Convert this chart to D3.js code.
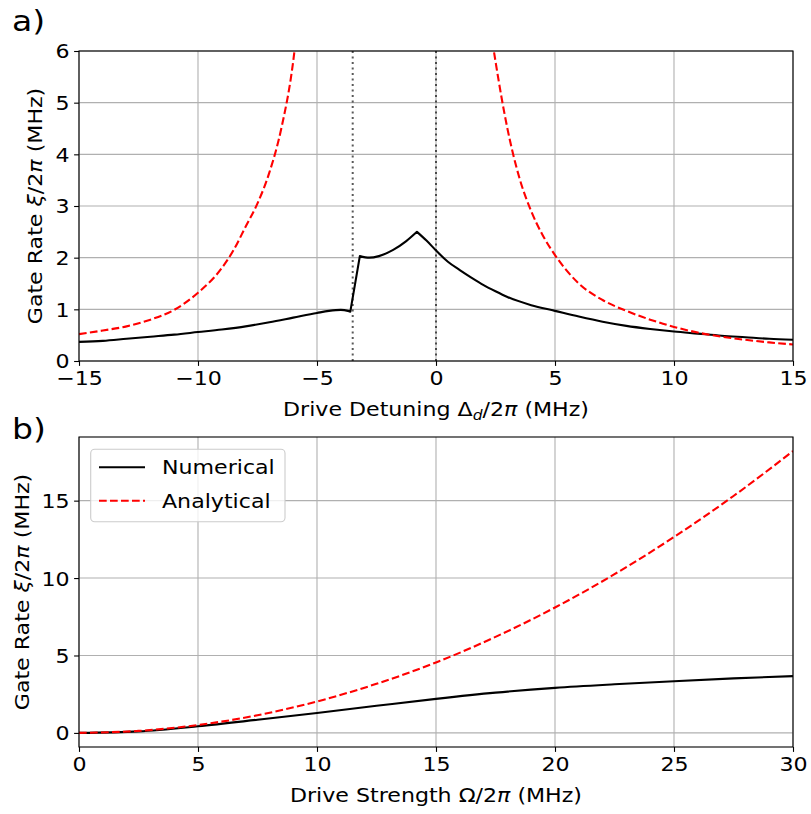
<!DOCTYPE html>
<html>
<head>
<meta charset="utf-8">
<script src="https://cdn.jsdelivr.net/npm/d3@7"></script>
<style>
  body { margin: 0; background: #fff; }
  text { font-family: "DejaVu Sans", sans-serif; fill: #000; }
</style>
</head>
<body>
<div id="chart"></div>
<script>
// panel a: gate rate vs drive detuning
const detNumX = [-15, -14, -13, -12, -11, -10, -9, -8, -7, -6, -5, -4.5, -4, -3.7, -3.6, -3.2, -2.8, -2.4, -1.8, -1.25, -0.8, -0.4, 0, 0.5, 1, 1.5, 2, 2.5, 3, 4, 5, 6, 7, 8, 9, 10, 11, 12, 13, 14, 15];
const detNumY = [0.37, 0.39, 0.43, 0.47, 0.51, 0.56, 0.61, 0.67, 0.75, 0.84, 0.93, 0.97, 0.99, 0.97, 0.955, 2.03, 2.0, 2.03, 2.15, 2.32, 2.5, 2.33, 2.14, 1.92, 1.76, 1.61, 1.47, 1.35, 1.24, 1.08, 0.97, 0.86, 0.76, 0.68, 0.62, 0.57, 0.53, 0.49, 0.46, 0.43, 0.41];
const detNumKinks = [-3.6, -3.2, -0.8]; // where the numerical curve breaks
const detAnaLeftX = [-15, -14, -13, -12, -11, -10, -9, -8.5, -8, -7.5, -7, -6.5, -6, -5.8];
const detAnaLeftY = [0.52, 0.59, 0.67, 0.80, 0.99, 1.32, 1.8, 2.15, 2.6, 3.05, 3.65, 4.5, 5.8, 6.6];
const detAnaRightX = [2.3, 2.5, 3, 3.5, 4, 4.5, 5, 6, 7, 8, 9, 10, 11, 12, 13, 14, 15];
const detAnaRightY = [6.4, 5.8, 4.5, 3.55, 2.9, 2.42, 2.05, 1.5, 1.18, 0.97, 0.8, 0.66, 0.55, 0.47, 0.41, 0.36, 0.32];
const markerX = [-3.5, 0];
const ticksAx = [-15, -10, -5, 0, 5, 10, 15];
const ticksAy = [0, 1, 2, 3, 4, 5, 6];

// panel b: gate rate vs drive strength
const strengthX = [0, 2.5, 5, 7.5, 10, 12.5, 15, 17.5, 20, 22.5, 25, 27.5, 30];
const strengthNum = [0, 0.1, 0.43, 0.85, 1.29, 1.75, 2.2, 2.6, 2.91, 3.14, 3.34, 3.52, 3.67];
const strengthAna = [0, 0.13, 0.51, 1.14, 2.03, 3.17, 4.55, 6.2, 8.1, 10.25, 12.65, 15.3, 18.2];
const ticksBx = [0, 5, 10, 15, 20, 25, 30];
const ticksBy = [0, 5, 10, 15];

const W = 811, H = 814;
const fs = 19.4;
const wide = 1.14; // reference font is wider than DejaVu
const gridColor = '#b0b0b0';
const lw = 2.1;

const svg = d3.select('#chart').append('svg')
    .attr('width', W)
    .attr('height', H);

function zip(xs, ys) {
    return xs.map((x, i) => [x, ys[i]]);
}

function fmt(v) {
    return v < 0 ? '\u2212' + Math.abs(v) : String(v);
}

// widen a text around its x anchor
function stretch(sel) {
    sel.each(function() {
        const t = d3.select(this);
        const ax = +t.attr('x') || 0;
        t.attr('transform', 'translate(' + ax + ',0) scale(' + wide + ',1) translate(' + (-ax) + ',0)');
    });
}

// mathtext-ish labels: [text, italic, sub, unsub]
function addRich(sel, parts) {
    parts.forEach(p => {
        const t = sel.append('tspan').text(p[0]);
        if (p[1]) t.attr('font-style', 'italic');
        if (p[2]) t.attr('font-size', fs * 0.7).attr('dy', 4);
        if (p[3]) t.attr('dy', -4);
    });
}

function panel(opt) {
    const x = d3.scaleLinear().domain(opt.xDomain).range([79, 793]);
    const y = d3.scaleLinear().domain(opt.yDomain).range([opt.bottom, opt.top]);
    const g = svg.append('g');

    const clipId = 'clip' + opt.id;
    svg.append('clipPath').attr('id', clipId)
        .append('rect')
        .attr('x', 79).attr('y', opt.top)
        .attr('width', 714).attr('height', opt.bottom - opt.top);

    // grid
    g.selectAll('.gx').data(opt.xTicks).enter().append('line')
        .attr('x1', d => x(d)).attr('x2', d => x(d))
        .attr('y1', opt.top).attr('y2', opt.bottom)
        .attr('stroke', gridColor).attr('stroke-width', 1.1);
    g.selectAll('.gy').data(opt.yTicks).enter().append('line')
        .attr('x1', 79).attr('x2', 793)
        .attr('y1', d => y(d)).attr('y2', d => y(d))
        .attr('stroke', gridColor).attr('stroke-width', 1.1);

    const plot = g.append('g').attr('clip-path', 'url(#' + clipId + ')');
    const xAxis = d3.axisBottom(x).tickValues(opt.xTicks).tickSize(4.9).tickPadding(4.5).tickFormat(fmt);
    const yAxis = d3.axisLeft(y).tickValues(opt.yTicks).tickSize(4.9).tickPadding(4.5).tickFormat(fmt);

    return { x, y, g, plot, xAxis, yAxis, opt };
}

function finishPanel(p) {
    const o = p.opt;
    // frame
    p.g.append('rect')
        .attr('x', 79).attr('y', o.top)
        .attr('width', 714).attr('height', o.bottom - o.top)
        .attr('fill', 'none').attr('stroke', '#000').attr('stroke-width', 1.1);

    const ax = p.g.append('g').attr('transform', 'translate(0,' + o.bottom + ')').call(p.xAxis);
    const ay = p.g.append('g').attr('transform', 'translate(79,0)').call(p.yAxis);
    [ax, ay].forEach(a => {
        a.select('.domain').remove();
        a.selectAll('line').attr('stroke', '#000').attr('stroke-width', 1.1);
        a.selectAll('text').attr('font-size', fs).attr('font-family', '"DejaVu Sans", sans-serif').attr('fill', '#000');
    });
    ay.selectAll('text').attr('dy', '0.36em');
    ax.selectAll('text').attr('dy', '0.76em');
    stretch(ax.selectAll('text'));
    stretch(ay.selectAll('text'));

    // x label
    const xl = p.g.append('text')
        .attr('x', 436).attr('y', o.bottom + 55)
        .attr('text-anchor', 'middle').attr('font-size', fs);
    addRich(xl, o.xLabel);
    stretch(xl);

    const yl = p.g.append('text')
        .attr('transform', 'translate(' + o.yLabelX + ',' + ((o.top + o.bottom) / 2) + ') rotate(-90) scale(' + wide + ',1)')
        .attr('text-anchor', 'middle').attr('font-size', fs);
    addRich(yl, [['Gate Rate '], ['\u03be', true], ['/2'], ['\u03c0', true], [' (MHz)']]);

    const lt = p.g.append('text')
        .attr('x', 12).attr('y', o.letterY)
        .attr('font-size', 29)
        .text(o.letter);
    stretch(lt);
}

const lineGen = (p, curve) => d3.line()
    .x(d => p.x(d[0]))
    .y(d => p.y(d[1]))
    .curve(curve);

// ---- panel a
const pa = panel({
    id: 'a', xDomain: [-15, 15], yDomain: [0, 6], top: 51, bottom: 361,
    xTicks: ticksAx, yTicks: ticksAy,
    xLabel: [['Drive Detuning \u0394'], ['d', true, true], ['/2', false, false, true], ['\u03c0', true], [' (MHz)']],
    yLabelX: 42, letter: 'a)', letterY: 31
});

pa.plot.selectAll('.marker').data(markerX).enter().append('line')
    .attr('x1', d => pa.x(d)).attr('x2', d => pa.x(d))
    .attr('y1', 51).attr('y2', 361)
    .attr('stroke', '#000').attr('stroke-opacity', 0.65)
    .attr('stroke-width', 2).attr('stroke-dasharray', '2.1,3.4');

// numerical curve: smooth pieces joined at the kinks
const numPts = zip(detNumX, detNumY);
const bounds = [-15].concat(detNumKinks, [15]);
let numD = '';
for (let i = 0; i < bounds.length - 1; i++) {
    const seg = numPts.filter(d => d[0] >= bounds[i] && d[0] <= bounds[i + 1]);
    const s = lineGen(pa, d3.curveMonotoneX)(seg);
    numD += (i === 0) ? s : 'L' + s.slice(1);
}
pa.plot.append('path')
    .attr('d', numD)
    .attr('fill', 'none').attr('stroke', '#000').attr('stroke-width', lw)
    .attr('stroke-linejoin', 'round');

[zip(detAnaLeftX, detAnaLeftY), zip(detAnaRightX, detAnaRightY)].forEach(branch => {
    pa.plot.append('path')
        .datum(branch)
        .attr('d', lineGen(pa, d3.curveMonotoneX))
        .attr('fill', 'none').attr('stroke', '#ff0000').attr('stroke-width', lw)
        .attr('stroke-dasharray', '7.7,3.3');
});
finishPanel(pa);

// ---- panel b
const pb = panel({
    id: 'b', xDomain: [0, 30], yDomain: [-0.91, 19.11], top: 437, bottom: 747,
    xTicks: ticksBx, yTicks: ticksBy,
    xLabel: [['Drive Strength \u03a9/2'], ['\u03c0', true], [' (MHz)']],
    yLabelX: 29, letter: 'b)', letterY: 439
});

pb.plot.append('path')
    .datum(zip(strengthX, strengthNum))
    .attr('d', lineGen(pb, d3.curveMonotoneX))
    .attr('fill', 'none').attr('stroke', '#000').attr('stroke-width', lw);

pb.plot.append('path')
    .datum(zip(strengthX, strengthAna))
    .attr('d', lineGen(pb, d3.curveMonotoneX))
    .attr('fill', 'none').attr('stroke', '#ff0000').attr('stroke-width', lw)
    .attr('stroke-dasharray', '7.7,3.3');

// legend
const leg = pb.g.append('g');
leg.append('rect')
    .attr('x', 90.7).attr('y', 449.3)
    .attr('width', 194.3).attr('height', 72.4)
    .attr('rx', 4).attr('ry', 4)
    .attr('fill', '#fff').attr('fill-opacity', 0.8)
    .attr('stroke', '#cccccc').attr('stroke-width', 1.1);

const legendItems = [
    { label: 'Numerical', color: '#000', dash: null, y: 467.3 },
    { label: 'Analytical', color: '#ff0000', dash: '7.7,3.3', y: 500.7 }
];
legendItems.forEach(it => {
    leg.append('line')
        .attr('x1', 99).attr('x2', 145)
        .attr('y1', it.y).attr('y2', it.y)
        .attr('stroke', it.color).attr('stroke-width', lw)
        .attr('stroke-dasharray', it.dash);
    const t = leg.append('text')
        .attr('x', 162).attr('y', it.y + 7)
        .attr('font-size', fs)
        .text(it.label);
    stretch(t);
});
finishPanel(pb);
</script>
</body>
</html>
